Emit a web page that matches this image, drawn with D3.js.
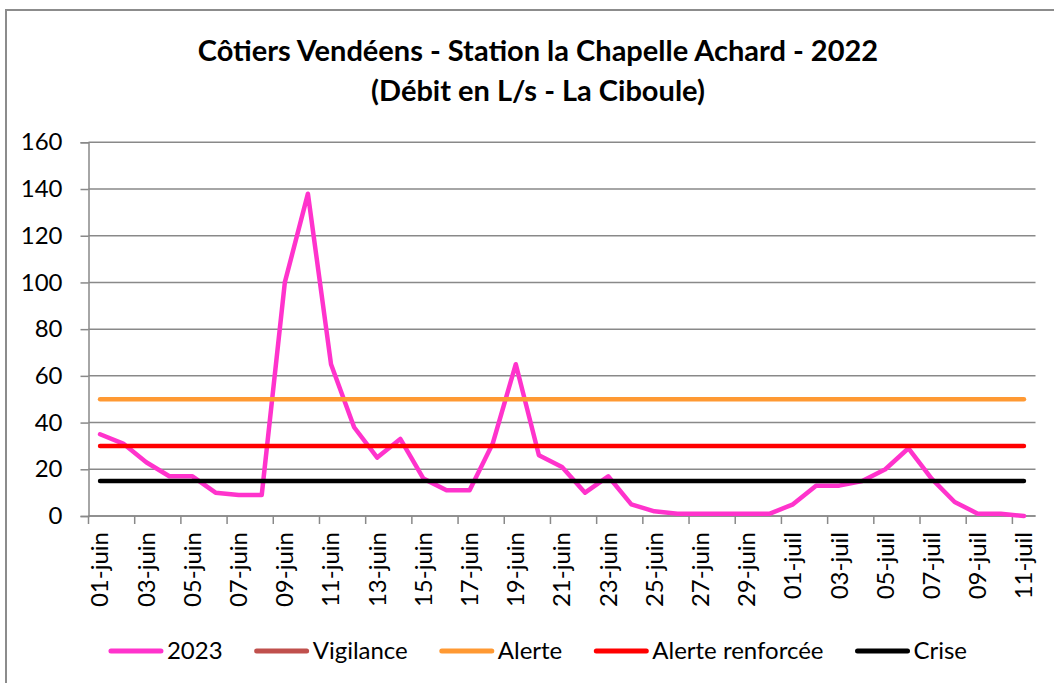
<!DOCTYPE html>
<html>
<head>
<meta charset="utf-8">
<script src="https://cdn.jsdelivr.net/npm/d3@7"></script>
<style>
  body { margin: 0; background: #fff; }
  svg { display: block; font-family: Lato, "Open Sans", sans-serif; }
</style>
</head>
<body>
<div id="chart"></div>
<script>
// dates on the category axis (one point per day)
var dates = ["01-juin", "02-juin", "03-juin", "04-juin", "05-juin", "06-juin", "07-juin", "08-juin",
  "09-juin", "10-juin", "11-juin", "12-juin", "13-juin", "14-juin", "15-juin", "16-juin", "17-juin",
  "18-juin", "19-juin", "20-juin", "21-juin", "22-juin", "23-juin", "24-juin", "25-juin", "26-juin",
  "27-juin", "28-juin", "29-juin", "30-juin", "01-juil", "02-juil", "03-juil", "04-juil", "05-juil",
  "06-juil", "07-juil", "08-juil", "09-juil", "10-juil", "11-juil"];

// débit 2023 (L/s)
var debit2023 = [35, 31, 23, 17, 17, 10, 9, 9, 100, 138, 65, 38, 25, 33, 16, 11, 11, 31, 65, 26,
  21, 10, 17, 5, 2, 1, 1, 1, 1, 1, 5, 13, 13, 15, 20, 29, 16, 6, 1, 1, 0];

// seuils
var seuilVigilance = null;
var seuilAlerte = 50;
var seuilRenforcee = 30;
var seuilCrise = 15;

var yTicks = [0, 20, 40, 60, 80, 100, 120, 140, 160];

var legendItems = [
  { label: "2023", color: "#FF33CC" },
  { label: "Vigilance", color: "#C0504D" },
  { label: "Alerte", color: "#FF9933" },
  { label: "Alerte renforcée", color: "#FF0000" },
  { label: "Crise", color: "#000000" }
];

var w = 1054, h = 683;
var plotLeft = 88.5, plotRight = 1035.5, plotTop = 142.3, plotBottom = 516;
var cx = 538;
var labelSize = 24;

var svg = d3.select("#chart").append("svg")
  .attr("width", w)
  .attr("height", h);

// outer chart border
svg.append("rect")
  .attr("x", 6).attr("y", 10)
  .attr("width", 1080).attr("height", 700)
  .attr("fill", "#fff")
  .attr("stroke", "#8c8c8c")
  .attr("stroke-width", 2);

// title
var title = svg.append("text")
  .attr("text-anchor", "middle")
  .attr("font-weight", "bold")
  .attr("font-size", 29)
  .attr("fill", "#000");
title.append("tspan").attr("x", cx).attr("y", 61).text("Côtiers Vendéens - Station la Chapelle Achard - 2022");
title.append("tspan").attr("x", cx).attr("y", 101).text("(Débit en L/s - La Ciboule)");

var x = d3.scaleBand().domain(dates).range([plotLeft, plotRight]);
var y = d3.scaleLinear().domain([0, 160]).range([plotBottom, plotTop]);
var xc = function(d) { return x(d) + x.bandwidth() / 2; };

// horizontal gridlines
svg.append("g")
  .selectAll("line")
  .data(yTicks)
  .enter()
  .append("line")
  .attr("x1", plotLeft).attr("x2", plotRight)
  .attr("y1", function(d) { return y(d); })
  .attr("y2", function(d) { return y(d); })
  .attr("stroke", "#898989")
  .attr("stroke-width", 1.5);

// y axis
var yAxis = svg.append("g")
  .attr("transform", "translate(" + plotLeft + ",0)")
  .call(d3.axisLeft(y).tickValues(yTicks).tickSize(8).tickPadding(18));
yAxis.select(".domain").attr("stroke", "#898989").attr("stroke-width", 1.5);
yAxis.selectAll(".tick line").attr("stroke", "#898989").attr("stroke-width", 1.5);
yAxis.selectAll("text")
  .attr("font-family", "Lato, sans-serif")
  .attr("font-size", labelSize)
  .attr("fill", "#000");

// x axis : ticks between every second category
var tickPos = d3.range(0, dates.length, 2).map(function(i) { return x(dates[i]); });
var xg = svg.append("g");
xg.append("line")
  .attr("x1", plotLeft).attr("x2", plotRight)
  .attr("y1", plotBottom).attr("y2", plotBottom)
  .attr("stroke", "#898989").attr("stroke-width", 1.5);
xg.selectAll(".tk")
  .data(tickPos)
  .enter()
  .append("line")
  .attr("class", "tk")
  .attr("x1", function(d) { return d; })
  .attr("x2", function(d) { return d; })
  .attr("y1", plotBottom).attr("y2", plotBottom + 8)
  .attr("stroke", "#898989").attr("stroke-width", 1.5);
xg.selectAll(".lbl")
  .data(dates.filter(function(d, i) { return i % 2 === 0; }))
  .enter()
  .append("text")
  .attr("class", "lbl")
  .attr("transform", function(d) { return "translate(" + xc(d) + "," + (plotBottom + 16) + ") rotate(-90)"; })
  .attr("dy", "0.35em")
  .attr("text-anchor", "end")
  .attr("font-size", labelSize)
  .attr("fill", "#000")
  .text(function(d) { return d; });

// 2023 series
var line = d3.line()
  .x(function(d, i) { return xc(dates[i]); })
  .y(function(d) { return y(d); });

svg.append("path")
  .datum(debit2023)
  .attr("d", line)
  .attr("fill", "none")
  .attr("stroke", "#FF33CC")
  .attr("stroke-width", 4.5)
  .attr("stroke-linejoin", "round")
  .attr("stroke-linecap", "round");

// threshold lines (drawn over the débit)
var seuils = [
  { v: seuilVigilance, color: "#C0504D" },
  { v: seuilAlerte, color: "#FF9933" },
  { v: seuilRenforcee, color: "#FF0000" },
  { v: seuilCrise, color: "#000000" }
].filter(function(s) { return s.v != null; });

svg.append("g")
  .selectAll("line")
  .data(seuils)
  .enter()
  .append("line")
  .attr("x1", xc(dates[0]))
  .attr("x2", xc(dates[dates.length - 1]))
  .attr("y1", function(d) { return y(d.v); })
  .attr("y2", function(d) { return y(d.v); })
  .attr("stroke", function(d) { return d.color; })
  .attr("stroke-width", 4.5)
  .attr("stroke-linecap", "round");

// legend, centred under the plot
var legend = svg.append("g");
var lx = 0;
legendItems.forEach(function(it, i) {
  var g = legend.append("g").attr("transform", "translate(" + lx + ",0)");
  g.append("line")
    .attr("x1", 2).attr("x2", 52)
    .attr("y1", 0).attr("y2", 0)
    .attr("stroke", it.color)
    .attr("stroke-width", 5)
    .attr("stroke-linecap", "round");
  var t = g.append("text")
    .attr("x", 58)
    .attr("dy", "0.35em")
    .attr("font-size", labelSize)
    .attr("fill", "#000")
    .text(it.label);
  lx += 58 + t.node().getComputedTextLength() + 32;
});
lx -= 32;
legend.attr("transform", "translate(" + (cx - lx / 2) + ",651)");
</script>
</body>
</html>
